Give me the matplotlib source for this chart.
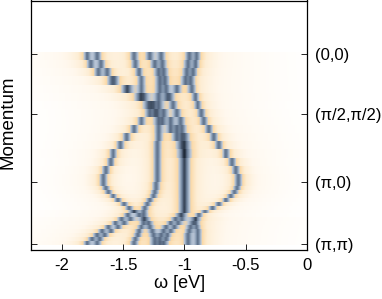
import numpy as np
import matplotlib
matplotlib.use("Agg")
import matplotlib.pyplot as plt
from matplotlib.colors import LinearSegmentedColormap, LogNorm

nan = np.nan

# momentum grid: 16 coarse rows (0,0)->(pi/2,pi/2)->(pi,0), 16 fine rows (pi,0)->(pi,pi)
K_EDGES = np.concatenate([np.linspace(-0.033, 2.133, 17), np.linspace(2.133, 3.183, 17)[1:]])
K_TICKS = [0.0, 1.0, 2.133, 3.167]
K_LABELS = ["(0,0)", "(π/2,π/2)", "(π,0)", "(π,π)"]

# quasiparticle peak positions (eV) per momentum row
band_L = [-0.96, -0.97, -0.98, -0.99, -1.06, -1.14, -1.21, -1.28, -1.35, -1.41, -1.47, -1.52, -1.58, -1.60, -1.64, -1.66,
          -1.66, -1.64, -1.62, -1.58, -1.54, -1.49, -1.45, -1.41, -1.37, -1.33, -1.33, -1.35, -1.37, -1.38, -1.40, -1.41]
band_R = [-0.90, -0.91, -0.93, -0.95, -0.94, -0.91, -0.89, -0.86, -0.84, -0.80, -0.76, -0.72, -0.66, -0.61, -0.58, -0.56,
          -0.56, -0.57, -0.59, -0.62, -0.66, -0.72, -0.77, -0.83, -0.88, -0.91, -0.93, -0.95, -0.96, -0.97, -0.97, -0.97]
band_R2 = [nan] * 25 + [-0.91, -0.91, -0.90, -0.89, -0.89, -0.89, -0.89]
band_Da = [-1.79, -1.76, -1.70, -1.59, -1.46, -1.35, -1.27, -1.22, -1.21, -1.21, -1.21, -1.22, -1.22, -1.22, -1.22, -1.22,
           -1.23, -1.23, -1.24, -1.25, -1.28, -1.30, -1.32, -1.33, -1.33, -1.32, -1.29, -1.28, -1.26, -1.25, -1.24, -1.24]
band_Db = [-1.71, -1.68, -1.63, -1.57, -1.47, -1.36, -1.25, -1.17, -1.11, -1.06, -1.02, -1.00, -1.00, -1.00, -1.00, -1.00,
           -1.00, -1.00, -1.00, -1.00, -1.00, -1.00, -1.00, -1.00, -1.03, -1.07, -1.11, -1.15, -1.17, -1.19, -1.20, -1.20]
band_Dc = [-1.41, -1.40, -1.37, -1.35, -1.35, -1.33, -1.29, -1.24, -1.18, -1.11, -1.06, -1.02, -1.00] + [nan] * 19
band_Ce = [-1.19, -1.18, -1.17, -1.16, -1.15, -1.12, -1.09, -1.06, -1.03, -1.02, -1.00, -1.00, -1.00, -1.00, -1.00, -1.00,
           -1.00, -1.00, -1.00, -1.00, -1.00, -1.00, -1.00, -1.00, -1.02, -1.02, -1.05, -1.08, -1.11, -1.14, -1.15, -1.17]
band_Dd = [-1.28, -1.24, -1.21, -1.20, -1.20, -1.21] + [nan] * 26
band_Wa = [nan] * 23 + [-1.41, -1.46, -1.51, -1.56, -1.62, -1.67, -1.71, -1.75, -1.79]
band_Wb = [nan] * 25 + [-1.44, -1.49, -1.54, -1.60, -1.65, -1.69, -1.71]

ETA = 0.016  # lorentzian broadening (eV)

bands = [band_L, band_R, band_R2, band_Da, band_Db, band_Dc, band_Ce, band_Dd, band_Wa, band_Wb]

w_edges = np.linspace(-2.25, 0.0, 563)
w = 0.5 * (w_edges[1:] + w_edges[:-1])
spec = np.zeros((len(K_EDGES) - 1, len(w)))
for band in bands:
    for row, e in enumerate(band):
        if not np.isnan(e):
            spec[row] += ETA**2 / ((w - e) ** 2 + ETA**2)

cmap = LinearSegmentedColormap.from_list(
    "arpes",
    [
        (0.00, "#ffffff"),
        (0.30, "#fff8ee"),
        (0.50, "#fdedd4"),
        (0.64, "#fad9a8"),
        (0.70, "#b9c6d7"),
        (0.80, "#8195ad"),
        (0.89, "#5b6d86"),
        (1.00, "#1f2a38"),
    ],
)
norm = LogNorm(vmin=1e-3, vmax=3.0, clip=True)

plt.rcParams["font.family"] = ["Liberation Sans", "DejaVu Sans"]

fig = plt.figure(figsize=(3.82, 2.99), dpi=100)
ax = fig.add_axes([31 / 382, 1 - 250 / 299, (307 - 31) / 382, 249.5 / 299])
ax.pcolormesh(w_edges, K_EDGES, spec, cmap=cmap, norm=norm, shading="flat", rasterized=True)

ax.set_xlim(-2.25, 0)
ax.set_ylim(3.267, -0.892)
ax.set_xticks([-2, -1.5, -1, -0.5, 0])
ax.set_xticklabels(["-2", "-1.5", "-1", "-0.5", "0"])
ax.set_yticks(K_TICKS)
ax.set_yticklabels(K_LABELS)
ax.tick_params(axis="x", direction="in", length=4, width=0.6, labelsize=12, pad=6)
ax.tick_params(axis="y", direction="in", length=4, width=0.6, labelsize=12, pad=6,
               left=True, right=True, labelleft=False, labelright=True)
for s in ax.spines.values():
    s.set_linewidth(0.9)

fig.text(180 / 382, 1 - 283 / 299, "ω [eV]", ha="center", va="center", fontsize=13)
fig.text(8 / 382, 1 - 122 / 299, "Momentum", ha="center", va="center", rotation=90, fontsize=13.5)

fig.savefig("out.png", dpi=100)
